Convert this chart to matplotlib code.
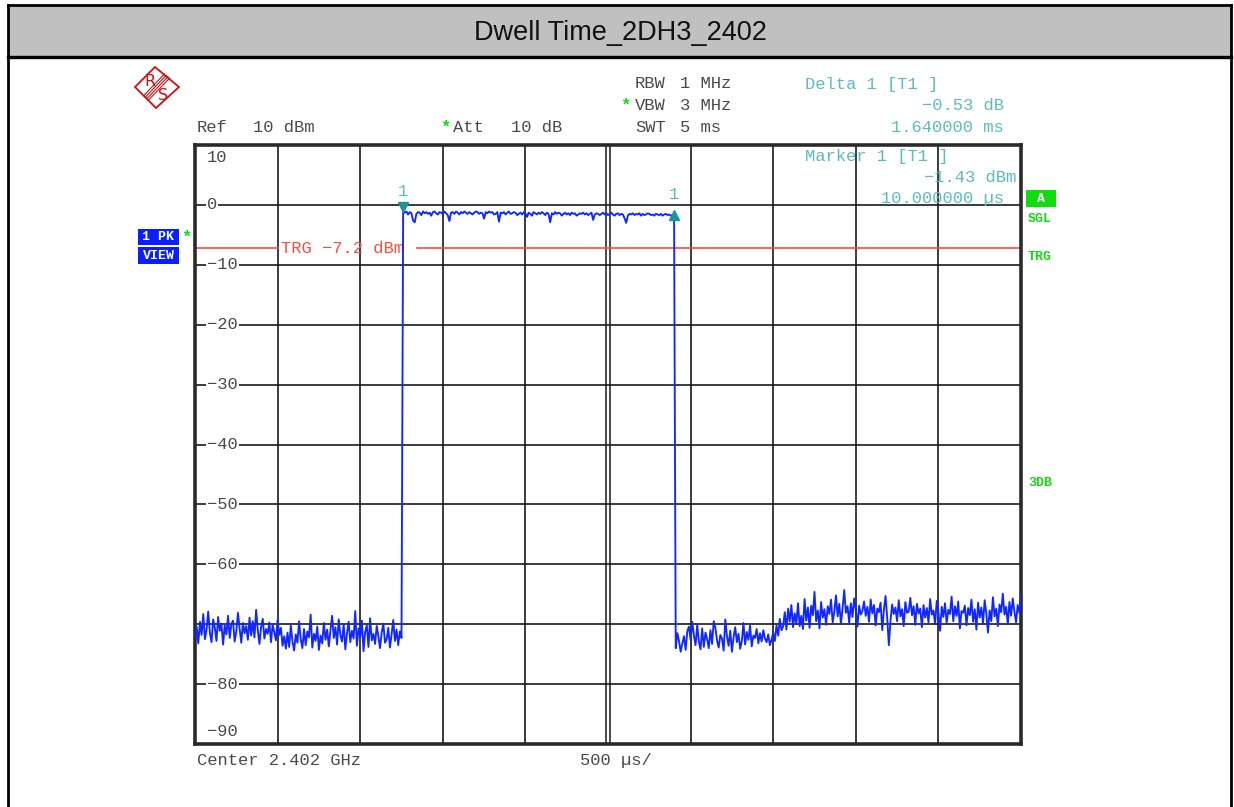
import numpy as np
import matplotlib
matplotlib.use("Agg")
import matplotlib.pyplot as plt
from matplotlib.patches import Rectangle, Polygon
from matplotlib.transforms import offset_copy

# ---------------- data ----------------
title = "Dwell Time_2DH3_2402"
sweep_ms = 5.0
ref_level = 10
bottom_level = -90
trigger_dbm = -7.2
delta_ms = 1.64
marker1_idx = 126

y_tick_values = [10, 0, -10, -20, -30, -40, -50, -60, -80, -90]
y_tick_labels = ["10", "0", "\u221210", "\u221220", "\u221230", "\u221240",
                 "\u221250", "\u221260", "\u221280", "\u221290"]

noise_pre = [
    -72.1, -70.4, -73.2, -69.6, -71.8, -68.3, -72.5, -70.9, -67.9, -71.4,
    -73.0, -69.2, -70.6, -72.8, -68.8, -71.1, -69.9, -73.4, -70.2, -71.7,
    -68.6, -72.3, -70.0, -69.4, -72.9, -71.2, -68.1, -70.7, -73.1, -69.8,
    -71.5, -70.3, -72.6, -68.9, -71.9, -69.5, -72.2, -67.6, -71.0, -73.3,
    -70.5, -69.1, -72.4, -70.8, -71.6, -69.7, -73.0, -70.1, -71.3, -72.7,
    -69.3, -71.8, -70.6, -73.6, -72.0, -74.1, -71.4, -73.8, -70.2, -72.9,
    -74.4, -71.7, -73.1, -69.5, -72.5, -74.0, -70.8, -73.5, -71.2, -72.2,
    -68.4, -73.9, -71.6, -72.8, -70.4, -74.3, -71.9, -73.2, -69.8, -72.6,
    -70.9, -73.7, -71.0, -68.6, -72.3, -70.5, -73.4, -69.2, -71.8, -72.9,
    -70.0, -74.2, -71.5, -69.6, -73.0, -71.1, -72.4, -67.8, -73.6, -70.7,
    -72.1, -69.4, -74.5, -71.3, -70.2, -73.8, -69.0, -72.7, -71.6, -73.3,
    -70.3, -72.0, -74.0, -71.4, -69.9, -73.1, -72.5, -70.6, -73.9, -71.7,
    -69.3, -72.8, -70.9, -73.5, -71.2, -72.3,
]

burst = [
    -1.0, -1.3, -1.1, -1.6, -1.2, -1.4, -2.6, -2.9, -1.5, -1.2,
    -1.3, -1.7, -1.1, -1.4, -1.2, -1.5, -1.3, -1.8, -1.2, -1.1,
    -1.4, -1.6, -1.2, -1.3, -1.5, -1.1, -1.4, -1.7, -2.7, -1.3,
    -1.2, -1.5, -1.1, -1.3, -1.6, -1.2, -1.4, -1.1, -1.3, -1.5,
    -1.2, -1.4, -1.6, -1.3, -1.1, -1.2, -1.5, -1.3, -1.4, -2.3,
    -1.2, -1.4, -1.1, -1.3, -1.2, -1.6, -1.5, -1.2, -2.8, -1.3,
    -1.4, -1.2, -1.6, -1.3, -1.1, -1.5, -1.4, -1.2, -1.3, -1.7,
    -1.5, -1.3, -1.6, -1.2, -1.4, -2.0, -1.3, -1.5, -1.8, -1.2,
    -1.4, -1.6, -1.3, -1.5, -1.2, -1.4, -1.7, -1.3, -1.5, -2.9,
    -1.4, -1.6, -1.2, -1.5, -1.3, -1.4, -1.8, -1.5, -1.3, -1.6,
    -1.4, -1.7, -1.3, -1.5, -1.4, -1.8, -1.6, -1.4, -1.5, -1.3,
    -1.6, -1.4, -1.7, -1.5, -1.3, -2.5, -1.6, -1.4, -1.5, -1.7,
    -1.5, -1.3, -1.6, -1.4, -1.7, -1.5, -1.3, -1.6, -1.8, -1.5,
    -1.4, -1.7, -1.5, -1.6, -2.2, -3.0, -1.8, -1.5, -1.6, -1.4,
    -1.7, -1.5, -1.6, -1.4, -1.8, -1.5, -1.7, -1.6, -1.4, -1.5,
    -1.7, -1.6, -1.8, -1.5, -1.6, -1.7, -1.5, -1.8, -1.6, -1.5,
    -1.7, -1.6, -1.8, -1.7, -1.6,
]

noise_post = [
    -74.0, -71.5, -72.8, -74.6, -73.2, -72.0, -74.3, -71.2, -70.4, -72.6,
    -69.6, -71.9, -73.5, -70.1, -72.9, -74.2, -70.7, -73.8, -71.4, -72.5,
    -74.0, -71.0, -73.3, -69.5, -70.6, -72.7, -73.9, -71.8, -72.4, -74.4,
    -69.2, -72.0, -73.6, -71.1, -74.6, -72.2, -70.5, -73.0, -71.6, -74.1,
    -72.8, -69.8, -73.4, -71.3, -72.6, -70.2, -73.7, -71.9, -72.3, -70.8,
    -73.2, -71.5, -72.9, -71.0, -72.4, -73.0, -71.7, -73.5,
    -72.6, -71.4, -72.8, -70.2, -71.9, -69.1, -71.0, -70.4, -68.0, -70.9,
    -67.4, -69.6, -66.8, -70.5, -68.2, -69.9, -66.5,
    -70.3, -68.6, -70.8, -65.8, -69.4, -67.2, -70.6, -66.9, -68.5, -64.6,
    -69.5, -67.7, -70.7, -66.3, -68.9, -67.5, -70.1, -67.0, -68.3, -65.9,
    -69.7, -67.9, -65.2, -68.7, -66.6, -70.0, -67.3, -64.3, -68.1, -67.0,
    -69.8, -66.5, -68.8, -65.7, -67.6, -70.4, -66.9, -68.4, -67.8, -66.2,
    -68.6, -67.1, -69.6, -65.9, -68.2, -66.8, -70.2, -67.4, -68.0, -66.4,
    -71.0, -67.6, -65.3, -68.9, -73.5, -69.4, -66.7, -68.3, -67.2, -69.5,
    -66.0, -68.7, -67.5, -70.3, -66.3, -68.1, -67.9, -65.6, -68.5, -67.0,
    -70.1, -66.6, -68.2, -67.4, -70.5, -66.8, -68.9, -67.3, -69.7, -65.8,
    -68.4, -67.7, -70.0, -66.1, -68.0, -71.1, -67.1, -68.8, -66.5, -69.8,
    -67.6, -68.3, -65.4, -69.5, -67.0, -68.6, -66.2, -70.7, -67.8, -68.1,
    -66.9, -70.2, -67.3, -68.5, -65.9, -69.6, -67.5, -70.9, -66.4, -68.9,
    -67.2, -69.9, -66.0, -68.2, -71.4, -67.7, -69.5, -65.5, -68.7, -67.4,
    -70.3, -66.7, -68.0, -64.9, -68.4, -67.1, -70.0, -66.3, -68.6, -65.7,
    -67.9, -69.7, -66.8, -68.1, -65.2,
]

# ---------------- styling ----------------
W, H = 1234, 807
MONO = "Liberation Mono"
GRAY = "#4a4a4a"
TEAL = "#5cbcbc"
TEAL_DARK = "#1e9696"
GREEN = "#10dd10"
BLUE_BOX = "#0a1eff"
TRACE = "#1028ff"
RED = "#ff4c3c"
FS = 12.3

trace = np.array(noise_pre + burst + noise_post)
t = np.linspace(0, sweep_ms, len(trace))
step = t[1] - t[0]
delta_idx = marker1_idx + int(round(delta_ms / step))

fig = plt.figure(figsize=(W / 100, H / 100), dpi=100)
fig.patch.set_facecolor("white")

# plot area (pixels 195..1021 x 145..744)
L, R, T, B = 195, 1021, 145, 744
ax = fig.add_axes([L / W, 1 - B / H, (R - L) / W, (B - T) / H])
ax.set_xlim(0, sweep_ms)
ax.set_ylim(bottom_level, ref_level)
ax.set_xticks([])
ax.set_yticks([])
for s in ax.spines.values():
    s.set_linewidth(2.6)
    s.set_color("#2a2a2a")

# grid
for k in range(1, 10):
    x = k * sweep_ms / 10
    if k == 5:
        dx = 1.6 * sweep_ms / (R - L)
        ax.axvline(x - dx, color="#1a1a1a", lw=1.1, zorder=1)
        ax.axvline(x + dx, color="#1a1a1a", lw=1.1, zorder=1)
    else:
        ax.axvline(x, color="#1a1a1a", lw=1.2, zorder=1)
for k in range(1, 10):
    ax.axhline(ref_level - k * 10, color="#1a1a1a", lw=1.2, zorder=1)

# y tick labels inside the plot
ytr = ax.get_yaxis_transform()
for v, lab in zip(y_tick_values, y_tick_labels):
    if v == ref_level:
        tr = offset_copy(ytr, fig=fig, x=0, y=-13, units="dots")
    elif v == bottom_level:
        tr = offset_copy(ytr, fig=fig, x=0, y=12, units="dots")
    else:
        tr = ytr
    ax.text(12 / (R - L), v, lab, transform=tr, family=MONO, fontsize=FS,
            color=GRAY, ha="left", va="center", zorder=3,
            bbox=dict(facecolor="white", edgecolor="none", pad=0.8))

# trigger line with label gap
gap_a = 0.502
gap_b = 1.345
ax.plot([0, gap_a], [trigger_dbm, trigger_dbm], color=RED, lw=1.2, zorder=2)
ax.plot([gap_b, sweep_ms], [trigger_dbm, trigger_dbm], color=RED, lw=1.2, zorder=2)
ax.text(gap_a + 0.02, trigger_dbm, "TRG \u22127.2 dBm", family=MONO, fontsize=FS,
        color=RED, ha="left", va="center", zorder=3)

# trace
ax.plot(t, trace, color=TRACE, lw=1.35, zorder=4, solid_joinstyle="round")

# markers
tr_dn = offset_copy(ax.transData, fig=fig, x=0, y=4, units="dots")
ax.plot(t[marker1_idx], trace[marker1_idx], marker="v", ms=7.5, color=TEAL_DARK,
        transform=tr_dn, zorder=5, clip_on=False)
tr_lab1 = offset_copy(ax.transData, fig=fig, x=0, y=19, units="dots")
ax.text(t[marker1_idx], trace[marker1_idx], "1", transform=tr_lab1, family=MONO,
        fontsize=FS, color=TEAL, ha="center", va="center", zorder=5)
tr_up = offset_copy(ax.transData, fig=fig, x=0, y=-1, units="dots")
ax.plot(t[delta_idx], trace[delta_idx], marker="^", ms=7.5, color=TEAL_DARK,
        transform=tr_up, zorder=5, clip_on=False)
tr_lab2 = offset_copy(ax.transData, fig=fig, x=0, y=20, units="dots")
ax.text(t[delta_idx], trace[delta_idx], "1", transform=tr_lab2, family=MONO,
        fontsize=FS, color=TEAL, ha="center", va="center", zorder=5)

# ---------------- overlay in pixel coordinates ----------------
ov = fig.add_axes([0, 0, 1, 1], zorder=5)
ov.set_xlim(0, W)
ov.set_ylim(H, 0)
ov.axis("off")
ov.patch.set_visible(False)

# title band and frame
ov.add_patch(Rectangle((8, 5), 1223, 52, facecolor="#c0c0c0", edgecolor="none"))
ov.plot([8, 1231], [5, 5], color="black", lw=2)
ov.plot([8, 1231], [57, 57], color="black", lw=2.4)
ov.plot([8, 8], [5, H], color="black", lw=2)
ov.plot([1231, 1231], [5, H], color="black", lw=2)
ov.text(620, 33, title, ha="center", va="center", fontsize=19.5,
        family=["Liberation Sans Narrow", "Liberation Sans"], color="#111111")

# R&S logo
cx, cy = 157, 87
ov.add_patch(Polygon([(cx - 22, cy), (cx - 2, cy - 20), (cx + 22, cy), (cx - 1, cy + 21)],
                     closed=True, fill=False, edgecolor="#cc1111", lw=1.3))
ux, uy = 0.77, 0.64
for o in (-3.3, -1.1, 1.1, 3.3):
    ov.plot([167 + o * ux, 146 + o * ux], [76 + o * uy, 98 + o * uy],
            color="#cc1111", lw=0.8)
ov.text(150, 81, "R", color="#cc1111", fontsize=11.5, family="DejaVu Sans",
        ha="center", va="center")
ov.text(163, 95, "S", color="#cc1111", fontsize=11.5, family="DejaVu Sans",
        ha="center", va="center")


def mtext(x, y, s, color=GRAY, ha="left", **kw):
    ov.text(x, y, s, family=MONO, fontsize=FS, color=color, ha=ha,
            va="baseline", **kw)


# header texts
mtext(197, 132.5, "Ref")
mtext(253, 132.5, "10 dBm")
mtext(440, 132, "*", color=GREEN, weight="bold")
mtext(453, 132.5, "Att")
mtext(511, 132.5, "10 dB")
mtext(635, 88.5, "RBW")
mtext(680, 88.5, "1 MHz")
mtext(620, 110, "*", color=GREEN, weight="bold")
mtext(635, 110, "VBW")
mtext(680, 110, "3 MHz")
mtext(635, 132, "SWT")
mtext(680, 132, "5 ms")
mtext(805, 88.5, "Delta 1 [T1 ]", color=TEAL)
mtext(1004, 110, "\u22120.53 dB", color=TEAL, ha="right")
mtext(1004, 132, "1.640000 ms", color=TEAL, ha="right")
mtext(805, 161, "Marker 1 [T1 ]", color=TEAL)
mtext(1016, 182.5, "\u22121.43 dBm", color=TEAL, ha="right")
mtext(1004, 202.5, "10.000000 \u00b5s", color=TEAL, ha="right")

# footer
mtext(197, 765, "Center 2.402 GHz")
mtext(580, 765, "500 \u00b5s/")

# left blue boxes
ov.add_patch(Rectangle((138, 229), 41, 16, facecolor=BLUE_BOX, edgecolor="none"))
ov.add_patch(Rectangle((138, 247), 41, 17, facecolor=BLUE_BOX, edgecolor="none"))
ov.text(158.5, 237.5, "1 PK", family=MONO, fontsize=9.5, weight="bold",
        color="white", ha="center", va="center")
ov.text(158.5, 256, "VIEW", family=MONO, fontsize=9.5, weight="bold",
        color="white", ha="center", va="center")
ov.text(186, 242, "*", family=MONO, fontsize=FS, weight="bold", color=GREEN,
        ha="center", va="baseline")

# right green labels
ov.add_patch(Rectangle((1026, 190), 30, 17, facecolor=GREEN, edgecolor="none"))
ov.text(1041, 198.5, "A", family=MONO, fontsize=9.5, weight="bold",
        color="white", ha="center", va="center")
for yb, s in ((222, "SGL"), (259.5, "TRG"), (486, "3DB")):
    ov.text(1028, yb, s, family=MONO, fontsize=9.5, weight="bold",
            color=GREEN, ha="left", va="baseline")

fig.savefig("out.png", dpi=100, facecolor="white")
